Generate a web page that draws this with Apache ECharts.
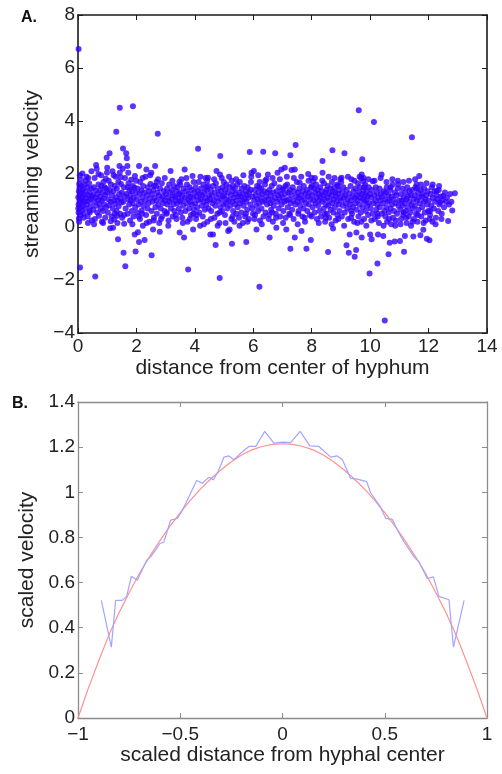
<!DOCTYPE html>
<html>
<head>
<meta charset="utf-8">
<script src="https://cdn.jsdelivr.net/npm/echarts@6/dist/echarts.min.js"></script>
<style>
html, body { margin: 0; padding: 0; background: #fff; }
#chart { width: 502px; height: 774px; }
</style>
</head>
<body>
<div id="chart"></div>
<script>
// panel A: [distance from center, streaming velocity]
const velocityPoints = [
  [0.02,6.72],[1.43,4.5],[1.88,4.56],[1.31,3.59],[2.73,3.52],[4.11,2.95],
  [0.07,-1.53],[0.59,-1.87],[1.62,-1.48],[1.56,-0.97],[1.97,-0.92],[1.37,-0.46],[2.52,-1.07],
  [3.77,-1.6],[4.85,-1.92],[6.21,-2.25],[4.71,-0.68],[5.27,-0.63],[5.76,-0.57],
  [0.01,1.12],[0.02,0.85],[0.03,1.35],[0.02,0.55],[0.04,1.62],[0.05,0.98],[0.03,0.32],[0.06,1.25],[0.07,0.72],[0.05,1.48],
  [0.08,1.05],[0.09,0.44],[0.1,1.78],[0.11,0.9],[0.12,1.3],[0.13,0.62],[0.14,1.15],[0.15,2.02],[0.16,0.8],[0.17,1.42],
  [0.18,1.0],[0.2,0.5],[0.21,1.22],[0.22,1.6],[0.23,0.95],[0.25,1.35],[0.26,0.7],[0.28,1.1],[0.29,1.9],[0.3,0.85],
  [0.32,1.5],[0.33,0.4],[0.35,1.2],[0.36,0.98],[0.38,1.65],[0.39,0.6],[0.41,1.3],[0.42,1.05],[0.44,0.78],[0.45,1.45],
  [0.47,0.25],[0.48,1.15],[0.04,0.2],[0.06,1.95],[0.01,0.7],[0.12,1.55],[0.19,0.35],[0.27,1.75],[0.34,0.15],[0.46,2.1],
  [0.51,1.2],[0.52,0.65],[0.54,1.5],[0.55,0.95],[0.57,1.85],[0.58,0.3],[0.6,1.1],[0.61,1.38],[0.63,0.8],[0.64,2.2],
  [0.66,0.55],[0.67,1.25],[0.69,1.02],[0.7,1.6],[0.72,0.42],[0.73,0.88],[0.75,1.4],[0.76,1.15],[0.78,0.7],[0.79,1.95],
  [0.81,1.0],[0.82,0.2],[0.84,1.3],[0.85,0.6],[0.87,1.7],[0.88,1.08],[0.9,0.85],[0.91,1.5],[0.93,0.35],[0.94,1.22],
  [0.96,0.75],[0.97,1.45],[0.99,2.05],[0.62,2.34],[0.98,2.61],[1.0,2.24],
  [1.01,1.3],[1.02,0.55],[1.04,1.05],[1.05,1.75],[1.07,0.82],[1.08,2.78],[1.09,1.4],[1.1,-0.05],[1.12,0.95],[1.13,1.6],
  [1.15,0.4],[1.16,1.2],[1.18,2.1],[1.19,0.7],[1.2,-0.03],[1.21,1.35],[1.23,1.0],[1.24,0.28],[1.26,1.55],[1.27,0.88],
  [1.29,1.9],[1.3,1.12],[1.32,0.6],[1.33,1.45],[1.35,0.15],[1.36,1.0],[1.38,1.7],[1.39,0.78],[1.41,1.25],[1.42,2.3],
  [1.44,0.5],[1.45,1.08],[1.47,1.62],[1.48,0.92],[1.43,2.05],
  [1.5,1.3],[1.51,0.35],[1.53,2.2],[1.54,2.96],[1.55,0.95],[1.57,1.5],[1.58,0.12],[1.6,1.15],[1.61,1.85],[1.63,0.7],
  [1.65,2.78],[1.66,1.25],[1.67,2.59],[1.69,2.3],[1.7,0.5],[1.72,1.05],[1.73,1.65],[1.75,0.85],[1.76,1.4],[1.78,0.25],
  [1.79,1.2],[1.81,1.0],[1.82,1.78],[1.84,0.6],[1.85,1.35],[1.87,0.9],[1.88,1.55],[1.9,0.4],[1.91,1.1],[1.93,1.48],
  [1.95,1.92],[1.96,0.75],[1.98,1.28],[1.94,-0.28],
  [2.01,1.05],[2.02,0.55],[2.04,1.45],[2.05,-0.2],[2.07,0.85],[2.09,2.3],[2.09,-0.57],[2.1,1.25],[2.12,0.3],[2.13,1.7],
  [2.15,0.95],[2.17,1.38],[2.18,0.62],[2.2,1.12],[2.22,0.05],[2.23,1.55],[2.25,0.8],[2.27,1.3],[2.28,-0.49],[2.3,1.0],
  [2.31,1.9],[2.33,0.45],[2.34,2.17],[2.36,1.2],[2.38,0.7],[2.39,1.5],[2.41,0.9],[2.43,1.35],[2.44,0.2],[2.46,1.08],[2.48,1.62],
  [2.51,2.05],[2.52,0.6],[2.53,1.25],[2.55,0.95],[2.57,-0.09],[2.58,1.4],[2.6,0.35],[2.62,1.1],[2.64,2.3],[2.65,0.75],
  [2.67,1.55],[2.68,1.0],[2.7,0.5],[2.72,1.3],[2.74,1.8],[2.75,0.85],[2.77,1.2],[2.78,0.15],[2.8,-0.18],[2.81,1.45],
  [2.83,0.7],[2.85,1.05],[2.87,1.65],[2.88,0.4],[2.9,1.15],[2.92,0.9],[2.94,1.35],[2.96,0.6],[2.98,1.0],
  [3.01,1.25],[3.03,0.5],[3.05,1.45],[3.06,0.85],[3.08,1.1],[3.1,0.25],[3.12,1.6],[3.13,0.95],[3.15,1.3],[3.17,2.11],
  [3.18,0.7],[3.2,1.05],[3.22,1.4],[3.24,0.4],[3.25,1.2],[3.27,0.85],[3.29,1.55],[3.3,0.6],[3.32,1.15],[3.34,1.0],
  [3.36,1.35],[3.37,0.3],[3.39,0.9],[3.41,1.5],[3.43,1.1],[3.45,0.7],[3.46,1.25],[3.48,-0.21],[3.49,0.95],
  [3.51,1.3],[3.52,0.55],[3.54,1.8],[3.55,1.0],[3.57,0.35],[3.58,1.2],[3.6,0.8],[3.62,1.45],[3.63,-0.4],[3.65,2.17],
  [3.66,1.1],[3.68,0.6],[3.7,1.35],[3.72,0.9],[3.73,1.6],[3.75,0.2],[3.77,1.05],[3.79,1.25],[3.8,0.7],[3.82,1.5],
  [3.84,0.95],[3.85,1.15],[3.87,0.45],[3.89,1.4],[3.9,0.85],[3.92,1.92],[3.94,-0.09],[3.95,1.1],[3.97,0.65],[3.99,1.3],
  [4.01,0.9],[4.03,1.5],[4.04,0.3],[4.06,1.15],[4.08,0.75],[4.1,1.35],[4.12,1.0],[4.13,1.7],[4.15,0.55],[4.17,1.25],
  [4.18,0.05],[4.2,1.05],[4.22,1.45],[4.24,0.8],[4.25,1.2],[4.27,0.4],[4.29,1.6],[4.3,0.95],[4.32,1.3],[4.34,0.65],
  [4.36,1.1],[4.37,1.85],[4.39,0.85],[4.41,1.4],[4.43,0.2],[4.44,1.0],[4.46,1.55],[4.47,0.7],[4.45,1.86],[4.49,1.2],
  [4.51,1.05],[4.53,-0.28],[4.54,1.4],[4.56,0.6],[4.58,1.2],[4.6,0.9],[4.62,-0.28],[4.63,1.55],[4.65,1.0],[4.67,0.35],
  [4.68,1.3],[4.7,0.8],[4.72,1.65],[4.74,2.11],[4.75,1.1],[4.77,0.5],[4.79,1.45],[4.8,0.95],[4.82,1.25],[4.84,0.15],
  [4.86,1.98],[4.87,2.68],[4.88,0.75],[4.9,1.35],[4.91,1.05],[4.93,0.6],[4.95,1.5],[4.96,1.15],[4.98,0.85],[4.99,1.7],
  [5.01,1.2],[5.03,0.45],[5.04,1.4],[5.06,0.9],[5.08,1.6],[5.09,1.05],[5.11,0.7],[5.13,1.3],[5.14,-0.15],[5.16,1.0],
  [5.18,1.5],[5.19,-0.09],[5.21,0.8],[5.23,1.2],[5.25,0.3],[5.26,1.75],[5.28,0.95],[5.3,1.35],[5.31,0.6],[5.33,1.1],
  [5.35,0.2],[5.37,1.45],[5.38,0.85],[5.4,1.25],[5.42,0.5],[5.43,1.0],[5.45,1.6],[5.47,0.75],[5.49,1.15],
  [5.51,0.35],[5.52,1.3],[5.54,1.7],[5.55,0.9],[5.57,1.15],[5.59,0.55],[5.6,1.45],[5.62,1.0],[5.64,0.15],[5.65,1.25],
  [5.67,0.8],[5.69,1.55],[5.7,1.05],[5.72,0.4],[5.74,1.35],[5.76,0.95],[5.78,1.2],[5.79,0.65],[5.81,1.5],[5.83,1.1],
  [5.85,0.3],[5.86,1.3],[5.88,2.83],[5.9,0.85],[5.91,1.4],[5.93,1.9],[5.94,2.05],[5.96,0.7],[5.97,1.15],[5.99,0.5],
  [6.02,2.11],[6.03,1.0],[6.05,1.4],[6.06,0.45],[6.08,1.2],[6.1,0.8],[6.11,-0.09],[6.13,1.55],[6.15,1.05],[6.16,0.6],
  [6.18,1.3],[6.2,0.9],[6.22,1.7],[6.23,0.25],[6.25,1.1],[6.27,1.45],[6.28,0.7],[6.3,1.25],[6.32,0.95],[6.34,2.84],
  [6.35,0.4],[6.37,1.35],[6.39,1.0],[6.4,1.6],[6.42,0.55],[6.44,1.15],[6.45,1.8],[6.47,0.85],[6.49,1.3],
  [6.5,1.98],[6.52,1.05],[6.53,0.3],[6.55,1.4],[6.56,-0.4],[6.58,0.9],[6.6,1.2],[6.61,0.65],[6.63,1.55],[6.65,1.0],
  [6.67,0.2],[6.68,1.3],[6.7,0.8],[6.72,1.65],[6.74,1.1],[6.75,2.78],[6.77,0.5],[6.79,-0.03],[6.8,1.35],[6.82,0.95],
  [6.83,2.05],[6.85,1.2],[6.87,0.7],[6.89,1.5],[6.9,1.05],[6.92,0.4],[6.94,1.25],[6.96,2.17],[6.97,0.85],[6.99,1.4],
  [7.01,1.1],[7.03,0.6],[7.04,1.45],[7.06,0.95],[7.08,2.24],[7.09,1.25],[7.11,0.35],[7.13,-0.09],[7.14,1.0],[7.16,1.6],
  [7.18,0.75],[7.2,1.3],[7.21,1.05],[7.23,0.5],[7.25,1.4],[7.27,2.71],[7.27,-0.82],[7.28,0.9],[7.3,1.2],[7.31,2.15],
  [7.33,0.65],[7.35,1.5],[7.37,1.0],[7.38,0.3],[7.4,1.35],[7.42,2.17],[7.42,-0.4],[7.44,0.85],[7.45,3.09],[7.47,1.15],[7.49,1.7],
  [7.51,0.95],[7.53,1.3],[7.54,0.5],[7.56,1.1],[7.58,1.45],[7.59,1.67],[7.61,0.8],[7.63,1.2],[7.65,-0.15],[7.66,1.0],
  [7.68,0.4],[7.7,1.35],[7.72,0.7],[7.73,1.55],[7.75,1.05],[7.77,0.2],[7.78,1.25],[7.8,0.9],[7.82,-0.82],[7.84,1.4],
  [7.85,0.6],[7.87,1.15],[7.89,1.75],[7.9,0.85],[7.92,1.3],[7.94,0.45],[7.95,1.05],[7.97,-0.49],[7.98,1.5],[7.99,1.86],
  [8.01,1.2],[8.03,0.75],[8.05,1.73],[8.06,1.0],[8.08,1.45],[8.1,0.55],[8.12,1.3],[8.13,0.9],[8.15,1.6],[8.17,1.1],
  [8.18,0.3],[8.2,1.4],[8.22,0.8],[8.23,1.25],[8.25,1.0],[8.27,0.6],[8.29,1.5],[8.3,1.15],[8.32,0.4],[8.34,1.35],
  [8.35,0.95],[8.37,2.49],[8.37,2.05],[8.39,1.2],[8.41,0.7],[8.42,1.65],[8.44,1.05],[8.46,0.2],[8.47,1.3],[8.49,0.85],
  [8.5,1.4],[8.52,0.5],[8.53,1.1],[8.55,1.55],[8.56,-0.94],[8.57,0.8],[8.59,1.25],[8.6,0.35],[8.62,1.0],[8.64,1.45],
  [8.65,0.65],[8.67,1.2],[8.69,1.7],[8.7,0.9],[8.71,2.9],[8.72,1.35],[8.73,-0.06],[8.74,0.55],[8.76,1.05],[8.77,1.5],
  [8.79,0.75],[8.8,1.3],[8.82,0.25],[8.83,1.15],[8.85,0.95],[8.87,1.6],[8.88,0.45],[8.9,1.25],[8.92,0.85],[8.93,1.4],
  [8.95,0.6],[8.97,1.1],[8.98,1.8],
  [9.0,1.0],[9.02,1.86],[9.03,0.4],[9.05,1.3],[9.07,0.8],[9.08,1.5],[9.1,1.1],[9.12,2.78],[9.13,0.55],[9.15,1.2],
  [9.17,0.9],[9.19,-0.69],[9.2,1.4],[9.22,0.7],[9.23,1.05],[9.25,0.3],[9.27,-0.97],[9.28,1.25],[9.3,-0.28],[9.31,0.85],
  [9.33,1.55],[9.34,1.0],[9.36,1.8],[9.38,0.5],[9.4,1.15],[9.41,0.75],[9.43,1.35],[9.45,0.2],[9.47,-1.12],[9.48,1.1],[9.49,0.9],
  [9.5,1.45],[9.52,-0.87],[9.53,-0.21],[9.54,0.65],[9.55,1.2],[9.57,1.0],[9.58,1.65],[9.6,0.4],[9.61,4.41],[9.62,1.3],
  [9.63,0.85],[9.65,1.5],[9.66,1.1],[9.68,0.55],[9.69,1.85],[9.71,1.98],[9.71,-0.4],[9.72,1.25],[9.73,2.56],[9.74,0.75],
  [9.75,1.05],[9.76,1.73],[9.77,1.4],[9.79,0.3],[9.8,0.95],[9.82,1.2],[9.83,1.6],[9.85,0.6],[9.86,1.0],[9.88,1.35],
  [9.9,0.8],[9.91,1.15],[9.93,0.45],[9.95,1.5],[9.96,0.9],[9.98,-1.75],[9.99,1.25],
  [10.0,-0.28],[10.02,0.7],[10.03,1.1],[10.05,-0.46],[10.06,1.4],[10.08,0.5],[10.09,1.73],[10.11,0.9],[10.13,3.96],[10.14,1.2],
  [10.16,0.3],[10.18,1.0],[10.19,1.5],[10.21,0.65],[10.23,1.3],[10.25,-1.38],[10.25,0.85],[10.27,-0.28],[10.28,1.1],[10.3,0.15],
  [10.32,1.45],[10.33,0.75],[10.35,1.0],[10.37,1.25],[10.39,1.98],[10.4,0.5],[10.42,1.15],[10.44,0.9],[10.45,-0.34],[10.47,1.35],[10.49,0.6],
  [10.5,-3.53],[10.51,1.05],[10.52,0.4],[10.54,1.3],[10.55,0.75],[10.57,1.5],[10.58,0.2],[10.6,0.95],[10.62,1.2],[10.63,-1.03],
  [10.64,0.55],[10.66,1.0],[10.67,-0.59],[10.69,1.4],[10.7,0.7],[10.72,0.1],[10.73,1.15],[10.75,0.85],[10.77,1.6],[10.78,0.35],
  [10.8,1.05],[10.82,0.6],[10.84,-0.55],[10.85,1.3],[10.87,0.9],[10.88,0.25],[10.9,1.2],[10.92,0.5],[10.94,1.45],[10.96,1.61],[10.97,0.8],[10.99,1.0],
  [11.02,-0.53],[11.03,0.65],[11.05,1.25],[11.06,0.3],[11.08,1.0],[11.1,0.8],[11.11,1.45],[11.13,0.45],[11.15,1.1],[11.16,-0.93],
  [11.17,0.9],[11.19,-0.34],[11.2,1.3],[11.22,0.6],[11.24,1.05],[11.25,0.15],[11.27,1.5],[11.29,0.75],[11.3,1.15],[11.32,0.4],
  [11.34,0.95],[11.35,1.35],[11.37,0.55],[11.39,1.2],[11.4,0.05],[11.42,0.85],[11.43,3.39],[11.44,1.4],[11.46,0.7],[11.48,-0.36],[11.49,1.05],
  [11.5,0.3],[11.52,1.2],[11.53,0.8],[11.55,1.5],[11.57,0.5],[11.59,1.61],[11.6,1.0],[11.62,0.2],[11.64,1.3],[11.65,0.65],
  [11.67,1.1],[11.68,1.92],[11.7,0.9],[11.72,-0.31],[11.73,1.4],[11.75,0.4],[11.77,1.15],[11.78,0.75],[11.8,1.25],[11.82,-0.1],
  [11.84,0.95],[11.85,1.45],[11.87,0.55],[11.89,1.05],[11.9,0.25],[11.92,1.2],[11.94,-0.44],[11.95,0.85],[11.97,1.35],[11.99,0.6],
  [12.01,1.0],[12.03,-0.5],[12.05,0.45],[12.07,1.25],[12.09,0.8],[12.11,1.5],[12.13,0.2],[12.15,1.1],[12.18,0.7],[12.2,1.35],
  [12.22,0.95],[12.25,0.35],[12.27,1.2],[12.28,1.36],[12.3,1.05],[12.33,0.6],[12.35,1.4],[12.37,0.85],[12.39,0.92],[12.42,1.15],
  [12.45,0.5],[12.47,1.0],
  [12.5,1.17],[12.53,0.75],[12.56,1.3],[12.6,0.95],[12.63,1.1],[12.67,0.23],[12.7,0.85],[12.74,1.25],[12.78,0.95],[12.81,0.62],[12.9,1.27],
  // fuzzy upper and lower edges of the band
  [0.35,1.85],[0.55,0.1],[0.7,2.0],[0.86,0.15],[0.95,1.82],[1.12,0.22],[1.22,1.95],[1.34,0.42],[1.46,1.88],[1.58,0.45],
  [1.72,2.05],[1.86,0.1],[1.99,1.75],[2.08,0.4],[2.21,1.85],[2.35,0.15],[2.47,1.95],[2.59,0.25],[2.69,1.7],[2.84,0.3],
  [2.97,1.85],[3.09,0.05],[3.23,1.75],[3.35,0.45],[3.47,1.7],[3.59,0.15],[3.71,1.85],[3.83,0.3],[3.96,1.7],[4.07,0.45],
  [4.19,1.9],[4.31,0.1],[4.42,1.75],[4.55,0.3],[4.66,1.8],[4.78,0.05],[4.92,1.85],[5.05,0.15],[5.17,1.9],[5.29,0.4],
  [5.41,1.8],[5.53,0.05],[5.66,1.95],[5.8,0.2],[5.92,1.7],[6.04,0.3],[6.17,1.95],[6.29,0.1],[6.41,1.75],[6.54,0.45],
  [6.66,1.85],[6.78,0.35],[6.91,1.8],[7.02,0.15],[7.15,1.9],[7.26,0.45],[7.39,1.85],[7.52,0.1],[7.64,1.9],[7.76,0.35],
  [7.88,2.0],[8.0,0.4],[8.11,1.85],[8.24,0.15],[8.36,1.75],[8.48,0.35],[8.58,1.9],[8.68,0.1],[8.78,1.85],[8.91,0.3],
  [9.01,1.7],[9.11,0.05],[9.24,1.9],[9.35,0.35],[9.46,1.75],[9.56,0.15],[9.64,1.9],[9.7,0.2],[9.78,1.85],[9.87,0.05],
  [9.94,1.8],[10.04,0.25],[10.15,1.75],[10.26,0.4],[10.36,1.85],[10.46,0.05],[10.56,1.7],[10.65,0.3],[10.76,1.8],[10.86,0.05],
  [10.95,1.75],[11.04,0.1],[11.14,1.7],[11.23,0.35],[11.33,1.75],[11.45,0.2],[11.54,1.8],[11.63,0.45],[11.74,1.6],[11.83,0.15],
  [11.93,1.65],[12.04,0.3],[12.14,1.6],[12.24,0.1],[12.36,1.55],[12.44,0.3],
  [0.4,0.55],[0.8,1.55],[1.25,0.5],[1.7,1.5],[2.19,0.5],[2.6,1.55],[3.04,0.55],[3.5,1.6],[3.95,0.5],[4.4,1.5],
  [4.85,0.55],[5.3,1.55],[5.75,0.5],[6.2,1.5],[6.65,0.55],[7.1,1.55],[7.55,0.6],[8.0,1.55],[8.45,0.5],[8.9,1.55],
  [9.35,0.6],[9.8,1.5],[10.25,0.5],[10.7,1.5],[11.15,0.55],[11.6,1.45],[12.05,0.6]
];

// panel B: fitted profile (red)
const fitX = [-1, -0.95, -0.9, -0.85, -0.8, -0.75, -0.7, -0.65, -0.6, -0.55, -0.5, -0.45, -0.4, -0.35, -0.3, -0.25, -0.2, -0.15, -0.1, -0.05,
  0, 0.05, 0.1, 0.15, 0.2, 0.25, 0.3, 0.35, 0.4, 0.45, 0.5, 0.55, 0.6, 0.65, 0.7, 0.75, 0.8, 0.85, 0.9, 0.95, 1];
const fitY = [0, 0.13, 0.25, 0.365, 0.465, 0.555, 0.64, 0.715, 0.785, 0.85, 0.91, 0.965, 1.015, 1.06, 1.1, 1.135, 1.165, 1.188, 1.203, 1.212,
  1.215, 1.212, 1.203, 1.188, 1.165, 1.135, 1.1, 1.06, 1.015, 0.965, 0.91, 0.85, 0.785, 0.715, 0.64, 0.555, 0.465, 0.365, 0.25, 0.13, 0];

// panel B: measured profile (blue)
const profileX = [-0.886, -0.837, -0.816, -0.783, -0.762, -0.739, -0.71, -0.664, -0.645, -0.62, -0.599, -0.58, -0.547, -0.514, -0.49, -0.465,
  -0.42, -0.392, -0.359, -0.338, -0.315, -0.286, -0.262, -0.237, -0.196, -0.164, -0.131, -0.087, -0.042, 0.0, 0.04, 0.086, 0.134, 0.178,
  0.236, 0.268, 0.293, 0.333, 0.366, 0.412, 0.431, 0.48, 0.505, 0.537, 0.562, 0.594, 0.643, 0.667, 0.708, 0.738, 0.765, 0.814, 0.836, 0.888];
const profileY = [0.521, 0.314, 0.521, 0.521, 0.539, 0.628, 0.61, 0.699, 0.714, 0.745, 0.773, 0.78, 0.877, 0.884, 0.92, 0.966,
  1.052, 1.04, 1.067, 1.055, 1.092, 1.156, 1.161, 1.144, 1.18, 1.203, 1.203, 1.27, 1.218, 1.222, 1.22, 1.27, 1.206, 1.203,
  1.156, 1.161, 1.144, 1.062, 1.058, 1.047, 0.998, 0.933, 0.884, 0.88, 0.832, 0.781, 0.714, 0.692, 0.618, 0.625, 0.539, 0.524, 0.314, 0.521];

const FONT = 'Liberation Sans';
const minusFmt = v => String(v).replace('-', '\u2212');

function boxAxes(gridIndex, dim, min, max, interval, color, lineWidth, name, nameGap, labelMargin) {
  const line = { show: true, onZero: false, lineStyle: { color: color, width: lineWidth } };
  const tick = { show: true, inside: true, length: 5, lineStyle: { color: color, width: 1 } };
  const main = {
    type: 'value', gridIndex: gridIndex, min: min, max: max, interval: interval,
    position: dim === 'x' ? 'bottom' : 'left',
    name: name, nameLocation: 'middle', nameGap: nameGap,
    nameTextStyle: { fontFamily: FONT, fontSize: 21, color: '#222' },
    axisLine: line, axisTick: tick, splitLine: { show: false },
    axisLabel: { fontFamily: FONT, fontSize: 19, color: '#222', margin: labelMargin, formatter: minusFmt }
  };
  const mirror = {
    type: 'value', gridIndex: gridIndex, min: min, max: max, interval: interval,
    position: dim === 'x' ? 'top' : 'right',
    axisLine: line, axisTick: tick, splitLine: { show: false }, axisLabel: { show: false }
  };
  return [main, mirror];
}

const chart = echarts.init(document.getElementById('chart'));

const xA = boxAxes(0, 'x', 0, 14, 2, '#1a1a1a', 1.6, 'distance from center of hyphum', 25, 4);
const yA = boxAxes(0, 'y', -4, 8, 2, '#1a1a1a', 1.6, 'streaming velocity', 32, 3);
const xB = boxAxes(1, 'x', -1, 1, 0.5, '#8c8c8c', 1.3, 'scaled distance from hyphal center', 26, 7);
const yB = boxAxes(1, 'y', 0, 1.4, 0.2, '#8c8c8c', 1.3, 'scaled velocity', 39, 3);

chart.setOption({
  animation: false,
  title: [
    { text: 'A.', left: 16, top: 5, textStyle: { fontFamily: FONT, fontSize: 16, fontWeight: 'bold', color: '#111' } },
    { text: 'B.', left: 7, top: 391, textStyle: { fontFamily: FONT, fontSize: 16, fontWeight: 'bold', color: '#111' } }
  ],
  grid: [
    { left: 78, right: 15, top: 15, height: 318 },
    { left: 78, right: 15, top: 402, height: 316 }
  ],
  xAxis: xA.concat(xB),
  yAxis: yA.concat(yB),
  series: [
    {
      type: 'scatter', xAxisIndex: 0, yAxisIndex: 0,
      symbolSize: 6,
      itemStyle: { color: '#3300ff' },
      data: velocityPoints
    },
    {
      type: 'line', xAxisIndex: 2, yAxisIndex: 2,
      showSymbol: false,
      lineStyle: { color: '#ff9090', width: 1.2 },
      data: fitX.map((x, i) => [x, fitY[i]])
    },
    {
      type: 'line', xAxisIndex: 2, yAxisIndex: 2,
      showSymbol: false,
      lineStyle: { color: '#a4a4ff', width: 1.2 },
      data: profileX.map((x, i) => [x, profileY[i]])
    }
  ]
});
</script>
</body>
</html>
